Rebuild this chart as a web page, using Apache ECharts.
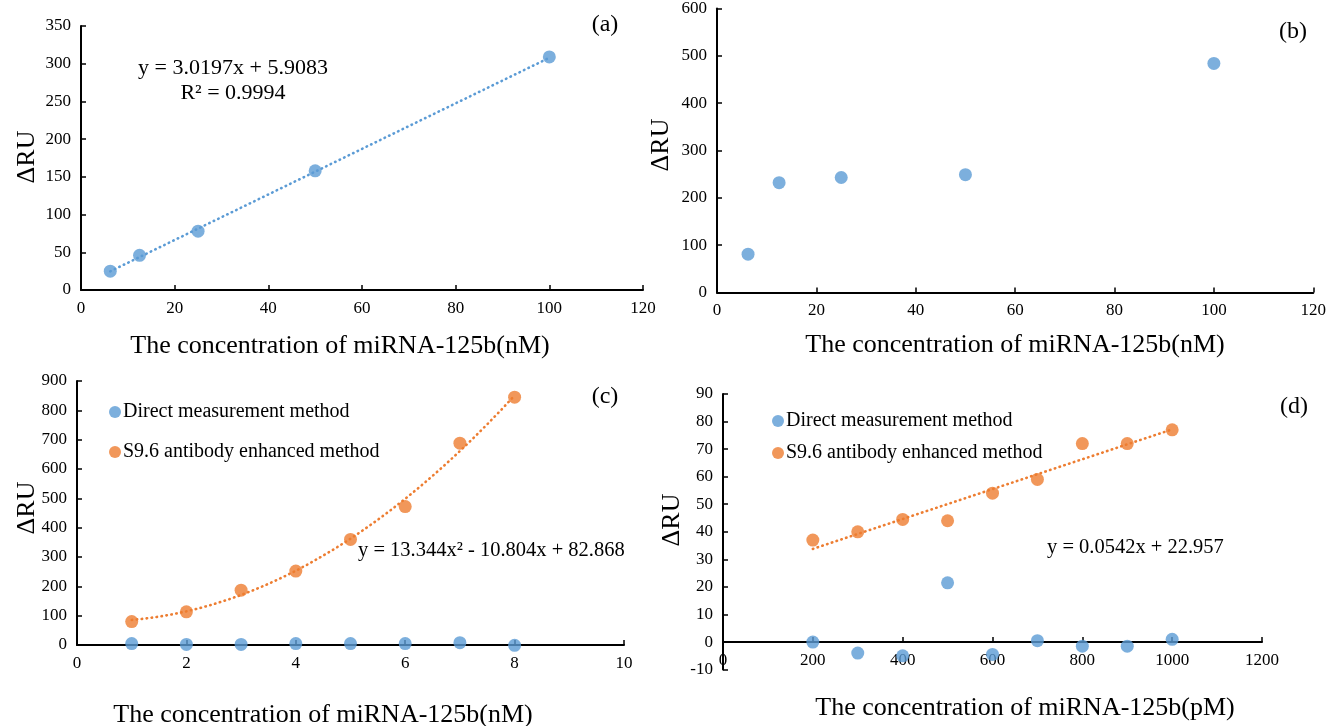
<!DOCTYPE html>
<html>
<head>
<meta charset="utf-8">
<title>miRNA-125b SPR response</title>
<script src="https://cdn.jsdelivr.net/npm/echarts@6/dist/echarts.min.js"></script>
<style>
  html, body { margin: 0; padding: 0; background: #fff; }
  #chart { width: 1329px; height: 726px; }
</style>
</head>
<body>
<div id="chart"></div>
<script>
// ---- data ----
// (a) and (b): concentration in nM
var concAB = [6.25, 12.5, 25, 50, 100];
var ruA = [25, 46, 78, 158, 309];
var ruB = [81, 232, 243, 249, 484];
var fitA = [3.0197, 5.9083];            // y = a*x + b

// (c): concentration 1..8 nM
var concC = [1, 2, 3, 4, 5, 6, 7, 8];
var directC = [5, 2, 2, 5, 5, 5, 8, -1];
var s96C = [80, 113, 187, 252, 360, 472, 688, 845];
var fitC = [13.344, -10.804, 82.868];   // y = a*x^2 + b*x + c

// (d): concentration 200..1000 pM
var concD = [200, 300, 400, 500, 600, 700, 800, 900, 1000];
var directD = [0, -4, -5, 21.5, -4.5, 0.5, -1.5, -1.5, 1];
var s96D = [37, 40, 44.5, 44, 54, 59, 72, 72, 77];
var fitD = [0.0542, 22.957];

var legendNames = ['Direct measurement method', 'S9.6 antibody enhanced method'];
var eqA = 'y = 3.0197x + 5.9083';
var r2A = 'R² = 0.9994';
var eqC = 'y = 13.344x² - 10.804x + 82.868';
var eqD = 'y = 0.0542x + 22.957';
var xTitleN = 'The concentration of miRNA-125b(nM)';
var xTitleP = 'The concentration of miRNA-125b(pM)';

var BLUE = '#5B9BD5', ORANGE = '#ED7D31';
var FONT = '"Liberation Serif", "Times New Roman", serif';

function pairs(xs, ys) {
    return xs.map(function (x, i) { return [x, ys[i]]; });
}
// trendline points from the equations printed on the figure
function linFit(c, x0, x1) {
    return [[x0, c[0] * x0 + c[1]], [x1, c[0] * x1 + c[1]]];
}
function quadFit(c, x0, x1) {
    var out = [];
    for (var x = x0; x <= x1 + 1e-9; x += 0.25) {
        out.push([x, c[0] * x * x + c[1] * x + c[2]]);
    }
    return out;
}

var chart = echarts.init(document.getElementById('chart'));

function xAx(grid, max, interval, offset) {
    return {
        type: 'value', gridIndex: grid, min: 0, max: max, interval: interval,
        offset: offset || 0,
        axisLine: { onZero: false, lineStyle: { color: '#000', width: 2 } },
        axisTick: { inside: true, length: 5, lineStyle: { color: '#000', width: 1.5 } },
        axisLabel: {
            color: '#000', fontFamily: FONT, fontSize: 17, margin: 10,
            formatter: function (v) { return String(v); }
        },
        splitLine: { show: false }
    };
}
function yAx(grid, min, max, interval) {
    return {
        type: 'value', gridIndex: grid, min: min, max: max, interval: interval,
        axisLine: { show: true, onZero: false, lineStyle: { color: '#000', width: 2 } },
        axisTick: { show: true, inside: true, length: 5, lineStyle: { color: '#000', width: 1.5 } },
        axisLabel: { color: '#000', fontFamily: FONT, fontSize: 17, margin: 10 },
        splitLine: { show: false }
    };
}
function dots(name, grid, data, color) {
    return {
        name: name, type: 'scatter', xAxisIndex: grid, yAxisIndex: grid,
        data: data, symbolSize: 13, clip: false, itemStyle: { color: color }, z: 3
    };
}
function trend(grid, data, color) {
    return {
        type: 'line', xAxisIndex: grid, yAxisIndex: grid, data: data,
        showSymbol: false, symbol: 'none', smooth: false, silent: true,
        lineStyle: { color: color, width: 2.6, type: [0.5, 4.5], cap: 'round' }, z: 2
    };
}
function txt(x, y, text, size, align, rot) {
    return {
        type: 'text', x: x, y: y, rotation: rot || 0,
        style: {
            text: text, fill: '#000', font: size + 'px ' + FONT,
            align: align || 'center', verticalAlign: 'middle'
        }
    };
}

var option = {
    animation: false,
    backgroundColor: '#fff',
    grid: [
        { left: 81, top: 26, width: 562, height: 264 },
        { left: 717, top: -1, width: 597, height: 293.5 },
        { left: 77, top: 381, width: 547, height: 264 },
        { left: 723, top: 394, width: 539, height: 275.6 }
    ],
    xAxis: [
        xAx(0, 120, 20),
        xAx(1, 120, 20),
        xAx(2, 10, 2),
        // (d) crosses the value axis at 0, one step above the bottom (-10)
        xAx(3, 1200, 200, -27.6)
    ],
    yAxis: [
        yAx(0, 0, 350, 50),
        yAx(1, 0, 600, 100),
        yAx(2, 0, 900, 100),
        yAx(3, -10, 90, 10)
    ],
    legend: [
        {
            data: legendNames, orient: 'vertical', left: 104, top: 397,
            icon: 'circle', itemWidth: 12, itemHeight: 12, itemGap: 20,
            textStyle: { fontFamily: FONT, fontSize: 20, color: '#000', padding: [0, 0, 0, -3] },
            selectedMode: false
        },
        {
            data: legendNames, orient: 'vertical', left: 767, top: 406,
            icon: 'circle', itemWidth: 12, itemHeight: 12, itemGap: 12,
            textStyle: { fontFamily: FONT, fontSize: 20, color: '#000', padding: [0, 0, 0, -3] },
            selectedMode: false
        }
    ],
    series: [
        trend(0, linFit(fitA, concAB[0], concAB[concAB.length - 1]), BLUE),
        dots('a', 0, pairs(concAB, ruA), BLUE),
        dots('b', 1, pairs(concAB, ruB), BLUE),
        trend(2, quadFit(fitC, concC[0], concC[concC.length - 1]), ORANGE),
        dots(legendNames[0], 2, pairs(concC, directC), BLUE),
        dots(legendNames[1], 2, pairs(concC, s96C), ORANGE),
        trend(3, linFit(fitD, concD[0], concD[concD.length - 1]), ORANGE),
        dots(legendNames[0], 3, pairs(concD, directD), BLUE),
        dots(legendNames[1], 3, pairs(concD, s96D), ORANGE)
    ],
    graphic: [
        txt(605, 25, '(a)', 24),
        txt(233, 68, eqA, 22),
        txt(233, 93, r2A, 22),
        txt(27, 157, 'ΔRU', 26, 'center', Math.PI / 2),
        txt(340, 346, xTitleN, 26),

        txt(1293, 32, '(b)', 24),
        txt(661, 145, 'ΔRU', 26, 'center', Math.PI / 2),
        txt(1015, 345, xTitleN, 26),

        txt(605, 397, '(c)', 24),
        txt(358, 551, eqC, 20.5, 'left'),
        txt(27, 508, 'ΔRU', 26, 'center', Math.PI / 2),
        txt(323, 715, xTitleN, 26),

        txt(1294, 407, '(d)', 24),
        txt(1047, 548, eqD, 20.5, 'left'),
        txt(672, 520, 'ΔRU', 26, 'center', Math.PI / 2),
        txt(1025, 708, xTitleP, 26)
    ]
};
chart.setOption(option);
</script>
</body>
</html>
